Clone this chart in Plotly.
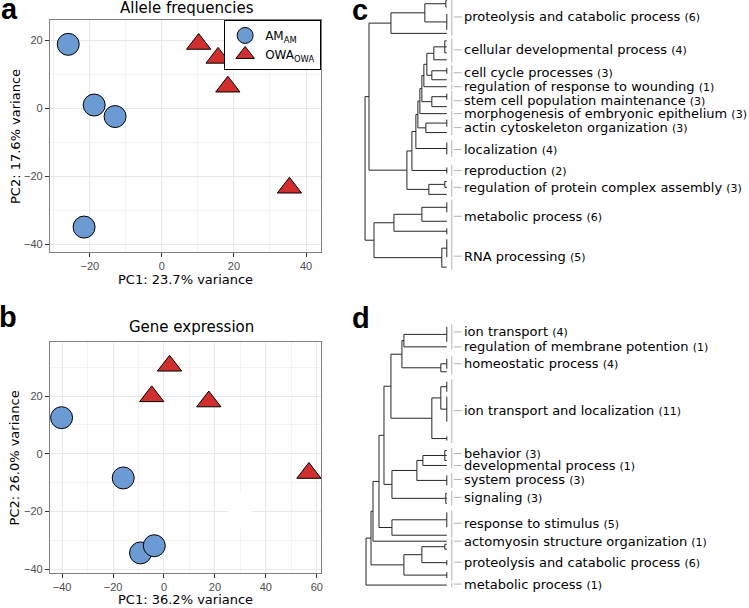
import plotly.graph_objects as go

W, H = 749, 608

# ---------------- PCA data ----------------
a_am_x = [-26.0, -18.8, -13.0, -21.6]
a_am_y = [18.9, 1.0, -2.4, -35.0]
a_owa_x = [10.2, 15.6, 18.3, 35.4]
a_owa_y = [19.0, 14.9, 6.4, -23.4]

b_am_x = [-40.2, -16.0, -9.2, -3.8]
b_am_y = [12.5, -8.4, -34.4, -31.9]
b_owa_x = [2.2, -4.8, 17.6, 56.9]
b_owa_y = [30.5, 19.9, 18.1, -6.7]

a_xticks = [-20, 0, 20, 40]
a_yticks = [-40, -20, 0, 20]
b_xticks = [-40, -20, 0, 20, 40, 60]
b_yticks = [-40, -20, 0, 20]

# ---------------- dendrogram data ----------------
# group subtrees: (merge height, [children]); plain numbers are leaf positions
c_labels = ["proteolysis and catabolic process", "cellular developmental process",
            "cell cycle processes", "regulation of response to wounding",
            "stem cell population maintenance", "morphogenesis of embryonic epithelium",
            "actin cytoskeleton organization", "localization", "reproduction",
            "regulation of protein complex assembly", "metabolic process", "RNA processing"]
c_counts = [6, 4, 3, 1, 3, 3, 3, 4, 2, 3, 6, 5]
c_label_pos = [17, 50, 73, 87, 101, 114, 128, 150, 171, 188, 217, 257]
c_groups = [
    (56, [(22, [(1, [0.5, 7.0]), (0, [14.0, 22.0, 30.0])]), 33.5]),
    (13, [(2, [41.0, 47.0, 53.0]), 60.0]),
    (15, [(0, [68.0, 74.0]), 80.0]),
    87.0,
    (15, [(0, [94.0, 100.0]), 107.0]),
    114.0,
    (21, [(0, [120.0, 127.0]), 133.0]),
    (0, [143.0, 147.0, 151.0, 155.0]),
    (0, [168.0, 174.0]),
    (18, [(2, [182.0, 188.0]), 195.0]),
    (53, [(25, [(0, [203.0, 208.0, 213.0]), 222.0]), (0, [229.0, 235.0])]),
    (5, [(0, [240.0, 246.0, 252.0, 258.0]), 268.0]),
]
# joins between groups (integers = group index)
c_join = (82, [(78, [0, (40, [(35, [(31, [(29, [(27, [(25, [(23, [(20, [1, 2]), 3]), 4]), 5]), 6]), 7]), 8]), 9])]),
               (73, [10, 11])])

d_labels = ["ion transport", "regulation of membrane potention", "homeostatic process",
            "ion transport and localization", "behavior", "developmental process",
            "system process", "signaling", "response to stimulus",
            "actomyosin structure organization", "proteolysis and catabolic process",
            "metabolic process"]
d_counts = [4, 1, 4, 11, 3, 1, 3, 3, 5, 1, 6, 1]
d_label_pos = [333, 348, 365, 412, 455, 467, 481, 499, 525, 543, 564, 586]
d_groups = [
    (0, [328.0, 333.0, 338.0, 343.0]),
    348.0,
    (6, [(0, [360.0, 365.0, 370.0]), 373.0]),
    (15, [(6, [(0, [383.0, 388.0, 393.0]), (0, [398.0, 403.0, 408.0, 413.0, 418.0, 423.0])]),
          (0, [438.0, 442.0])]),
    (2, [452.0, 457.0, 462.0]),
    467.0,
    (0, [477.0, 482.0, 487.0]),
    (1, [495.0, 500.0, 505.0]),
    (55, [(0, [514.0, 519.0, 524.0, 529.0]), 537.0]),
    543.0,
    (43, [(25, [(2, [546.0, 551.0]), (0, [562.0, 567.0])]), (0, [574.0, 580.0])]),
    587.0,
]
d_join = (81, [(76, [(74, [(68, [(63, [(56, [(45, [(43, [0, 1]), 2]), 3]),
                                        (55, [(30, [(24, [4, 5]), 6]), 7])]), 8]), 9]), 10]), 11])

BLUE = "#6b9bd2"
RED = "#d12e2e"


def resolve(node, groups):
    if isinstance(node, int):
        return groups[node]
    h, ch = node
    return (h, [resolve(c, groups) for c in ch])


def segs(node, xs, ys):
    if isinstance(node, (int, float)):
        return 0.0, float(node)
    h, ch = node
    pts = [segs(c, xs, ys) for c in ch]
    yc = [p[1] for p in pts]
    xs += [h, h, None]
    ys += [min(yc), max(yc), None]
    for hc, y in pts:
        xs += [h, hc, None]
        ys += [y, y, None]
    return h, sum(yc) / len(yc)


def leaves(node):
    if isinstance(node, (int, float)):
        return [float(node)]
    out = []
    for c in node[1]:
        out += leaves(c)
    return out


fig = go.Figure()

# ---- scatter panels ----
fig.add_trace(go.Scatter(x=a_am_x, y=a_am_y, mode="markers", name="AM<sub>AM</sub>",
                         marker=dict(symbol="circle", size=22, color=BLUE,
                                     line=dict(color="black", width=1)),
                         xaxis="x", yaxis="y"))
fig.add_trace(go.Scatter(x=a_owa_x, y=a_owa_y, mode="markers", name="OWA<sub>OWA</sub>",
                         marker=dict(symbol="triangle-up", size=21, color=RED,
                                     line=dict(color="black", width=1)),
                         xaxis="x", yaxis="y"))
fig.add_trace(go.Scatter(x=b_am_x, y=b_am_y, mode="markers", showlegend=False,
                         marker=dict(symbol="circle", size=22, color=BLUE,
                                     line=dict(color="black", width=1)),
                         xaxis="x2", yaxis="y2"))
fig.add_trace(go.Scatter(x=b_owa_x, y=b_owa_y, mode="markers", showlegend=False,
                         marker=dict(symbol="triangle-up", size=21, color=RED,
                                     line=dict(color="black", width=1)),
                         xaxis="x2", yaxis="y2"))

annotations = []
shapes = []


def add_dendro(groups, join, labels, counts, label_pos, xa, ya):
    tree = resolve(join, groups)
    xs, ys = [], []
    segs(tree, xs, ys)
    fig.add_trace(go.Scatter(x=xs, y=ys, mode="lines", showlegend=False, hoverinfo="skip",
                             line=dict(color="#262626", width=1), xaxis=xa, yaxis=ya))
    gx, gy = [], []
    for g, lp in zip(groups, label_pos):
        lv = leaves(g)
        gx += [-5, -5, None, -7, -15, None]
        gy += [min(lv) - 2.5, max(lv) + 2.5, None, lp, lp, None]
    fig.add_trace(go.Scatter(x=gx, y=gy, mode="lines", showlegend=False, hoverinfo="skip",
                             line=dict(color="#b3b3b3", width=1), xaxis=xa, yaxis=ya))
    for lab, cnt, lp in zip(labels, counts, label_pos):
        annotations.append(dict(
            x=-16, y=lp, xref=xa, yref=ya, xanchor="left", yanchor="middle",
            text=f"{lab} <span style='font-size:11px'>({cnt})</span>",
            showarrow=False, borderpad=0,
            font=dict(family="DejaVu Sans", size=13, color="black")))


add_dendro(c_groups, c_join, c_labels, c_counts, c_label_pos, "x3", "y3")
add_dendro(d_groups, d_join, d_labels, d_counts, d_label_pos, "x4", "y4")


def px(x):
    return x / W


def py(y):
    return 1 - y / H


def txt(x, y, s, size, family="DejaVu Sans", bold=False, angle=0, color="black"):
    annotations.append(dict(x=px(x), y=py(y), xref="paper", yref="paper",
                            xanchor="center", yanchor="middle", showarrow=False,
                            text=f"<b>{s}</b>" if bold else s, textangle=angle,
                            font=dict(family=family, size=size, color=color)))


txt(188, 8, "Allele frequencies", 15)
txt(186, 280, "PC1: 23.7% variance", 13)
txt(15, 136.5, "PC2: 17.6% variance", 13, angle=-90)
txt(192, 328, "Gene expression", 15)
txt(186, 601, "PC1: 36.2% variance", 13)
txt(15, 459, "PC2: 26.0% variance", 13, angle=-90)
txt(10, 9, "a", 29, family="Liberation Sans", bold=True)
txt(8, 318, "b", 29, family="Liberation Sans", bold=True)
txt(361, 10, "c", 29, family="Liberation Sans", bold=True)
txt(362, 319, "d", 29, family="Liberation Sans", bold=True)

# small white patch occluding grid in panel b
shapes.append(dict(type="rect", xref="x2", yref="y2", x0=25.5, x1=34.5, y0=-25.8, y1=-13.7,
                   fillcolor="white", line=dict(width=0), layer="between"))

grid_major = "#e8e8e8"
grid_minor = "#f3f3f3"


def pca_axis(domain, rng, ticks, anchor, minor_dtick=10):
    return dict(domain=domain, range=rng, anchor=anchor, tickmode="array", tickvals=ticks,
                showgrid=True, gridcolor=grid_major, gridwidth=1.1,
                minor=dict(showgrid=True, gridcolor=grid_minor, gridwidth=0.6,
                           tickmode="linear", tick0=0, dtick=minor_dtick, ticks=""),
                zeroline=False, showline=True, linecolor="#7f7f7f", linewidth=1, mirror=True,
                ticks="outside", ticklen=4, tickcolor="#333333", tickwidth=1,
                tickfont=dict(family="Liberation Sans", size=11, color="#4d4d4d"))


def dendro_axis(domain, rng, anchor):
    return dict(domain=domain, range=rng, anchor=anchor, showgrid=False, zeroline=False,
                showticklabels=False, ticks="", showline=False, fixedrange=True)


fig.update_layout(
    width=W, height=H, margin=dict(l=0, r=0, t=0, b=0),
    paper_bgcolor="white", plot_bgcolor="white",
    xaxis=pca_axis([px(50), px(322)], [-31.1, 44.2], a_xticks, "y"),
    yaxis=pca_axis([py(253), py(20)], [-42.4, 26.1], a_yticks, "x"),
    xaxis2=pca_axis([px(50), px(322)], [-44.8, 61.7], b_xticks, "y2"),
    yaxis2=pca_axis([py(575), py(343)], [-41.4, 38.8], b_yticks, "x2"),
    xaxis3=dendro_axis([px(330), 1], [118, -301], "y3"),
    yaxis3=dendro_axis([py(300), 1], [300, 0], "x3"),
    xaxis4=dendro_axis([px(330), 1], [118, -301], "y4"),
    yaxis4=dendro_axis([0, py(300)], [608, 300], "x4"),
    legend=dict(x=px(322), y=py(20), xanchor="right", yanchor="top",
                bgcolor="white", bordercolor="black", borderwidth=1,
                font=dict(family="DejaVu Sans", size=12, color="black"),
                itemwidth=30, tracegroupgap=2),
    annotations=annotations, shapes=shapes,
)

fig.write_html("out.html", config={"displayModeBar": False},
               post_script="document.body.style.margin='0px';document.body.style.overflow='hidden';")
